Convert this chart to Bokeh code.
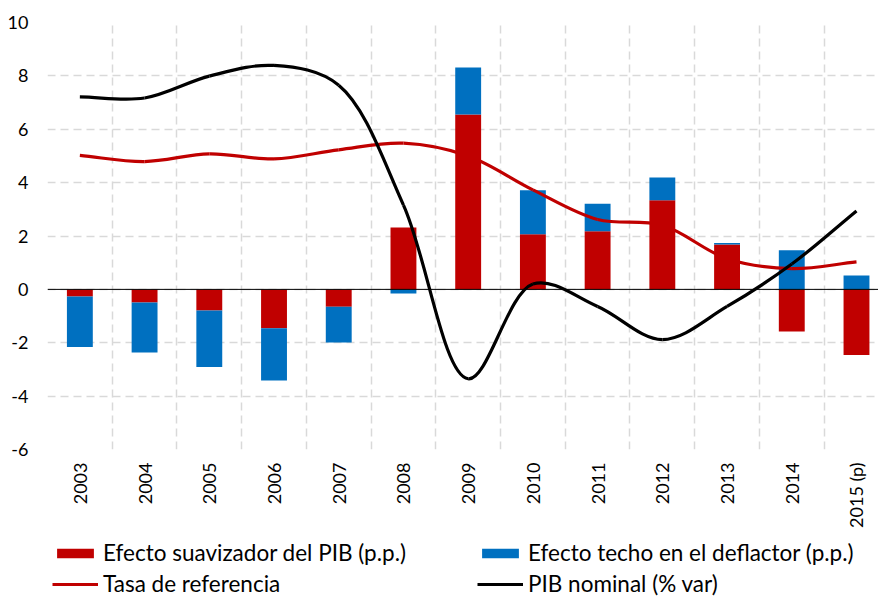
import numpy as np
from bokeh.plotting import figure
from bokeh.layouts import column
from bokeh.models import Range1d, FixedTicker, Span, Legend, LegendItem, ColumnDataSource
from bokeh.embed import file_html
from bokeh.resources import INLINE

# ---------------- data ----------------
years = ["2003", "2004", "2005", "2006", "2007", "2008", "2009",
         "2010", "2011", "2012", "2013", "2014", "2015 (p)"]
suavizador = [-0.27, -0.49, -0.79, -1.46, -0.65, 2.32, 6.55, 2.07, 2.18, 3.34, 1.68, -1.58, -2.46]
techo = [-1.89, -1.88, -2.12, -1.95, -1.34, -0.15, 1.76, 1.64, 1.03, 0.85, 0.06, 1.47, 0.52]
tasa_referencia = [5.02, 4.79, 5.08, 4.89, 5.23, 5.48, 5.0, 3.73, 2.62, 2.40, 1.15, 0.78, 1.03]
pib_nominal = [7.21, 7.17, 7.99, 8.39, 7.65, 3.16, -3.35, 0.2, -0.64, -1.88, -0.64, 0.95, 2.94]
y_ticks = [-6, -4, -2, 0, 2, 4, 6, 8, 10]

RED = "#C00000"
BLUE = "#0070C0"
FONT = "Lato"

n = len(years)
xc = [i + 0.5 for i in range(n)]

# stacked bars (positives and negatives stacked separately)
red_bottom = [0.0] * n
red_top = list(suavizador)
blue_bottom, blue_top = [], []
for r, b in zip(suavizador, techo):
    if (r >= 0) == (b >= 0):
        blue_bottom.append(r)
        blue_top.append(r + b)
    else:
        blue_bottom.append(0.0)
        blue_top.append(b)

SX, SY = 64.7, 26.66  # px per unit, used only for the smoothing shape


def smooth(xs, ys, alpha=0.5):
    P = np.column_stack([np.array(xs) * SX, np.array(ys) * SY])
    m = len(P)
    out = {k: [] for k in ("x0", "y0", "x1", "y1", "cx0", "cy0", "cx1", "cy1")}
    for i in range(m - 1):
        p1, p2 = P[i], P[i + 1]
        p0 = P[i - 1] if i > 0 else p1 - (p2 - p1)
        p3 = P[i + 2] if i + 2 < m else p2 + (p2 - p1)
        d1 = max(np.linalg.norm(p1 - p0), 1e-6) ** alpha
        d2 = max(np.linalg.norm(p2 - p1), 1e-6) ** alpha
        d3 = max(np.linalg.norm(p3 - p2), 1e-6) ** alpha
        b1 = (d1 ** 2 * p2 - d2 ** 2 * p0 + (2 * d1 ** 2 + 3 * d1 * d2 + d2 ** 2) * p1) / (3 * d1 * (d1 + d2))
        b2 = (d3 ** 2 * p1 - d2 ** 2 * p3 + (2 * d3 ** 2 + 3 * d3 * d2 + d2 ** 2) * p2) / (3 * d3 * (d3 + d2))
        out["x0"].append(p1[0] / SX); out["y0"].append(p1[1] / SY)
        out["x1"].append(p2[0] / SX); out["y1"].append(p2[1] / SY)
        out["cx0"].append(b1[0] / SX); out["cy0"].append(b1[1] / SY)
        out["cx1"].append(b2[0] / SX); out["cy1"].append(b2[1] / SY)
    return ColumnDataSource(out)


p = figure(width=878, height=536, output_backend="svg", toolbar_location=None,
           x_range=Range1d(0, 12.84), y_range=Range1d(-6, 10),
           min_border_left=47, min_border_top=22, min_border_right=0, min_border_bottom=87)
p.outline_line_color = None
p.background_fill_color = "white"

# grid
p.xgrid.ticker = FixedTicker(ticks=list(range(n)))
p.ygrid.ticker = FixedTicker(ticks=y_ticks)
for g in (p.xgrid, p.ygrid):
    g.grid_line_color = "#D9D9D9"
    g.grid_line_dash = "8 5"
    g.grid_line_width = 1.5

# axes
p.xaxis.ticker = FixedTicker(ticks=xc)
p.xaxis.major_label_overrides = {x: y for x, y in zip(xc, years)}
p.xaxis.major_label_orientation = np.pi / 2
p.yaxis.ticker = FixedTicker(ticks=y_ticks)
p.yaxis.major_label_overrides = {t: str(t) for t in y_ticks}
for ax in (p.xaxis, p.yaxis):
    ax.axis_line_color = None
    ax.major_tick_line_color = None
    ax.minor_tick_line_color = None
    ax.major_tick_out = 0
    ax.major_label_text_font = FONT
    ax.major_label_text_font_size = "18px"
    ax.major_label_text_color = "black"
p.xaxis.major_label_standoff = 13
p.yaxis.major_label_standoff = 19

# bars
bw = 0.40
p.vbar(x=xc, bottom=red_bottom, top=red_top, width=bw, fill_color=RED, line_color=None)
p.vbar(x=xc, bottom=blue_bottom, top=blue_top, width=bw, fill_color=BLUE, line_color=None)

p.add_layout(Span(location=0, dimension="width", line_color="black", line_width=1))

# smoothed lines
p.bezier(source=smooth(xc, tasa_referencia), x0="x0", y0="y0", x1="x1", y1="y1",
         cx0="cx0", cy0="cy0", cx1="cx1", cy1="cy1", line_color=RED, line_width=3.2)
p.bezier(source=smooth(xc, pib_nominal), x0="x0", y0="y0", x1="x1", y1="y1",
         cx0="cx0", cy0="cy0", cx1="cx1", cy1="cy1", line_color="black", line_width=3.2)

# ---------------- legend strip (series drawn out of its view, used only as legend keys) ----------------
lg = figure(width=878, height=64, output_backend="svg", toolbar_location=None,
            x_range=Range1d(-100, -99), y_range=Range1d(-100, -99),
            x_axis_type=None, y_axis_type=None,
            min_border_left=0, min_border_right=0, min_border_top=0, min_border_bottom=0)
lg.outline_line_color = None
lg.xgrid.visible = False
lg.ygrid.visible = False

k_red = lg.vbar(x=xc, bottom=red_bottom, top=red_top, width=bw, fill_color=RED, line_color=None)
k_blue = lg.vbar(x=xc, bottom=blue_bottom, top=blue_top, width=bw, fill_color=BLUE, line_color=None)
k_tasa = lg.line(x=xc, y=tasa_referencia, line_color=RED, line_width=3.2)
k_pib = lg.line(x=xc, y=pib_nominal, line_color="black", line_width=3.2)


def mk_legend(items, x):
    return Legend(items=items, location=(x, 3), orientation="vertical",
                  glyph_width=46, glyph_height=12, label_standoff=5,
                  label_height=27, spacing=4, padding=0, margin=0,
                  border_line_color=None, background_fill_alpha=0,
                  label_text_font=FONT, label_text_font_size="22.5px",
                  label_text_color="black")


lg.add_layout(mk_legend([LegendItem(label="Efecto suavizador del PIB (p.p.)", renderers=[k_red]),
                         LegendItem(label="Tasa de referencia", renderers=[k_tasa])], 5), "center")
lg.add_layout(mk_legend([LegendItem(label="Efecto techo en el deflactor (p.p.)", renderers=[k_blue]),
                         LegendItem(label="PIB nominal (% var)", renderers=[k_pib])], 430), "center")

layout = column(p, lg, spacing=0)
open("out.html", "w").write(file_html(layout, INLINE))
